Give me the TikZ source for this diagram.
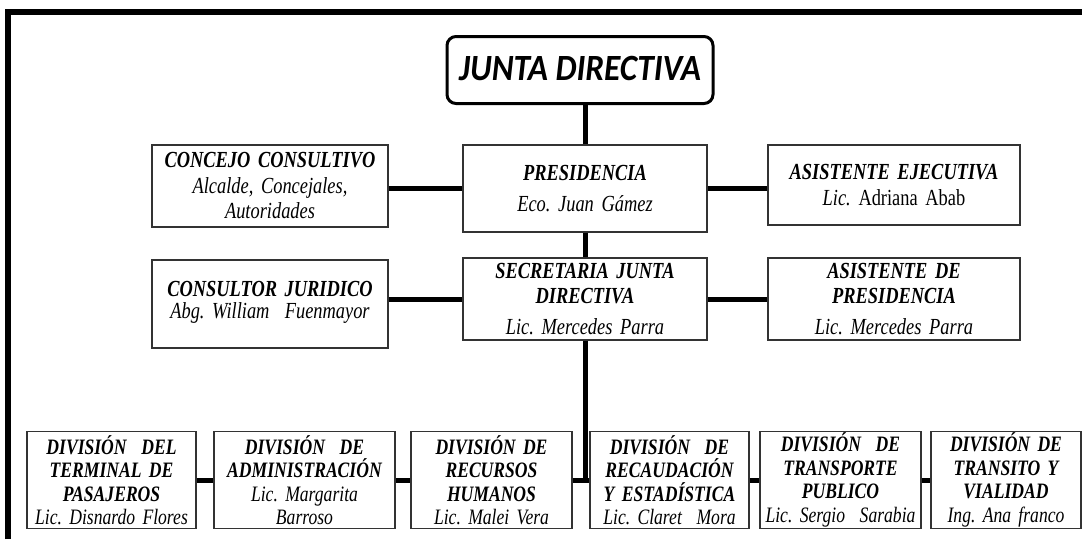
\documentclass[tikz,border=0pt]{standalone}
\usepackage{fontspec}
\setmainfont{Liberation Serif}[FakeStretch=0.8]
\newfontfamily\juntafont{Carlito}[FakeStretch=0.9]
\frenchspacing

\begin{document}
\begin{tikzpicture}[x=1pt,y=-1pt,
	unit/.style n args={2}{shape=rectangle,draw=black!80,line width=1.1pt,fill=white,
		align=center,inner sep=0pt,text width=#1,minimum height=#2,
		font=\fontsize{23}{25.5}\selectfont\itshape},
	divbox/.style={unit={#1}{97},font=\fontsize{22}{23.5}\selectfont\itshape},
	link/.style={line width=5pt}]
	\useasboundingbox (0,0) rectangle (1082,539);
	% frame
	\draw[line width=6pt] (8,539) -- (8,12) -- (1082,12);

	\node[shape=rectangle,draw=black,line width=3pt,rounded corners=9pt,fill=white,
		minimum width=266,minimum height=67,
		font=\juntafont\fontsize{37}{37}\selectfont\bfseries\itshape] (junta) at (580,70) {\raisebox{3pt}{JUNTA DIRECTIVA}};

	\node[unit={236}{82}] (concejo)   at (270,186)   {\textbf{CONCEJO CONSULTIVO}\\Alcalde, Concejales,\\Autoridades};
	\node[unit={244}{87}] (presid)    at (585,188.5) {\textbf{PRESIDENCIA}\\[5pt]Eco. Juan Gámez};
	\node[unit={252}{80}] (asisE)     at (894,185)   {\textbf{ASISTENTE EJECUTIVA}\\Lic. \upshape Adriana Abab};
	\node[unit={236}{88}] (consultor) at (270,304)   {\textbf{CONSULTOR JURIDICO}\\[-3pt]Abg. William\ \ Fuenmayor\\[-17pt]\mbox{}};
	\node[unit={244}{82}] (secret)    at (585,299)   {\textbf{SECRETARIA JUNTA}\\\textbf{DIRECTIVA}\\[5pt]Lic. Mercedes Parra};
	\node[unit={252}{82}] (asisP)     at (894,299)   {\textbf{ASISTENTE DE}\\\textbf{PRESIDENCIA}\\[5pt]Lic. Mercedes Parra};

	\node[divbox=169] (terminal)  at (111.5,480) {\textbf{DIVISIÓN\ \ DEL}\\\textbf{TERMINAL DE}\\\textbf{PASAJEROS}\\Lic. Disnardo Flores};
	\node[divbox=181] (admin)     at (304.5,480) {\textbf{DIVISIÓN\ \ DE}\\\textbf{ADMINISTRACIÓN}\\Lic. Margarita\\Barroso};
	\node[divbox=161] (rrhh)      at (491.5,480) {\textbf{DIVISIÓN DE}\\\textbf{RECURSOS}\\\textbf{HUMANOS}\\Lic. Malei Vera};
	\node[divbox=159] (recaudo)   at (669.5,480) {\textbf{DIVISIÓN\ \ DE}\\\textbf{RECAUDACIÓN}\\\textbf{Y ESTADÍSTICA}\\Lic. Claret\ \ Mora};
	\node[divbox=161] (transp)    at (840.5,480) {\textbf{DIVISIÓN\ \ DE}\\\textbf{TRANSPORTE}\\\textbf{PUBLICO}\\Lic. Sergio\ \ Sarabia};
	\node[divbox=150] (transito)  at (1006,480)  {\textbf{DIVISIÓN DE}\\\textbf{TRANSITO Y}\\\textbf{VIALIDAD}\\Ing. Ana franco};

	\draw[link] (presid.north) -- (presid.north |- junta.south);
	\draw[link] (presid) -- (secret);
	\draw[link] (concejo.east |- presid.west) -- (presid.west);
	\draw[link] (presid.east) -- (presid.east -| asisE.west);
	\draw[link] (consultor.east |- secret.west) -- (secret.west);
	\draw[link] (secret.east) -- (asisP.west);
	\draw[link] (secret.south) -- (secret.south |- rrhh.east);
	\draw[link] (terminal) -- (admin);
	\draw[link] (admin) -- (rrhh);
	\draw[link] (rrhh) -- (recaudo);
	\draw[link] (recaudo) -- (transp);
	\draw[link] (transp) -- (transito);
\end{tikzpicture}
\end{document}
